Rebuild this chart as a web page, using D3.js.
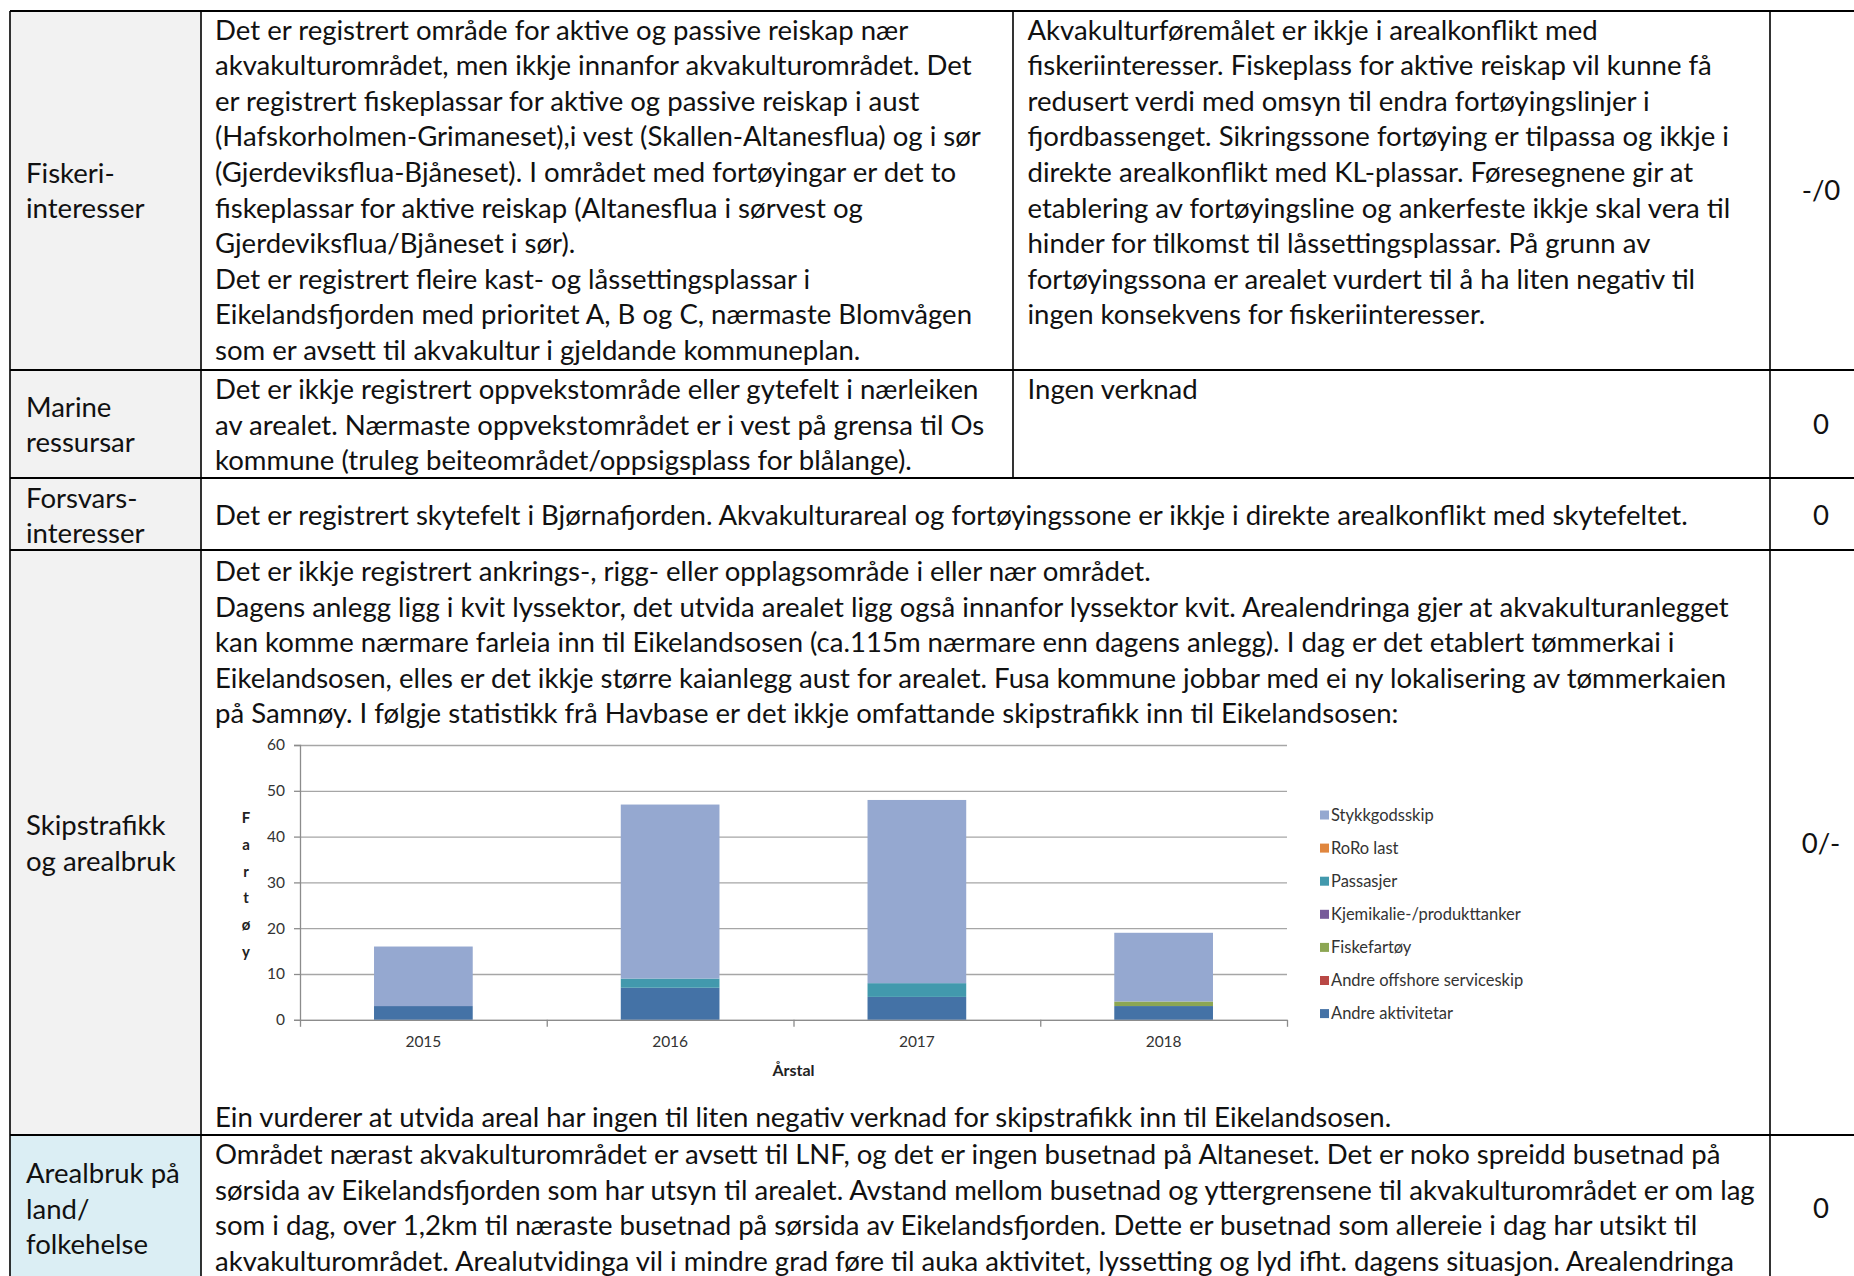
<!DOCTYPE html>
<html>
<head>
<meta charset="utf-8">
<script src="https://cdn.jsdelivr.net/npm/d3@7"></script>
<style>
  body { margin: 0; background: #fff; }
  text { font-family: Lato, "Noto Sans", sans-serif; }
</style>
</head>
<body>
<script>

// ---- chart data (Havbase, fartøy per år) ----
const years = ['2015', '2016', '2017', '2018'];

const seriesNames = [
  'Andre aktivitetar',
  'Andre offshore serviceskip',
  'Fiskefartøy',
  'Kjemikalie-/produkttanker',
  'Passasjer',
  'RoRo last',
  'Stykkgodsskip'
];

const andreAktivitetar = [3, 7, 5, 3];
const andreOffshore    = [0, 0, 0, 0];
const fiskefartoy      = [0, 0, 0, 1];
const kjemikalie       = [0, 0, 0, 0];
const passasjer        = [0, 2, 3, 0];
const roroLast         = [0, 0, 0, 0];
const stykkgodsskip    = [13, 38, 40, 15];

const yTicks = [0, 10, 20, 30, 40, 50, 60];

const seriesColors = ['#4472a6', '#b94845', '#8ca653', '#775a9a', '#4299ad', '#e0863e', '#95a8d0'];

// ---- table text ----
const headFiske   = ['Fiskeri-', 'interesser'];
const textFiske   = [
  'Det er registrert område for aktive og passive reiskap nær',
  'akvakulturområdet, men ikkje innanfor akvakulturområdet. Det',
  'er registrert fiskeplassar for aktive og passive reiskap i aust',
  '(Hafskorholmen-Grimaneset),i vest (Skallen-Altanesflua) og i sør',
  '(Gjerdeviksflua-Bjåneset). I området med fortøyingar er det to',
  'fiskeplassar for aktive reiskap (Altanesflua i sørvest og',
  'Gjerdeviksflua/Bjåneset i sør).',
  'Det er registrert fleire kast- og låssettingsplassar i',
  'Eikelandsfjorden med prioritet A, B og C, nærmaste Blomvågen',
  'som er avsett til akvakultur i gjeldande kommuneplan.'
];
const effectFiske = [
  'Akvakulturføremålet er ikkje i arealkonflikt med',
  'fiskeriinteresser. Fiskeplass for aktive reiskap vil kunne få',
  'redusert verdi med omsyn til endra fortøyingslinjer i',
  'fjordbassenget. Sikringssone fortøying er tilpassa og ikkje i',
  'direkte arealkonflikt med KL-plassar. Føresegnene gir at',
  'etablering av fortøyingsline og ankerfeste ikkje skal vera til',
  'hinder for tilkomst til låssettingsplassar. På grunn av',
  'fortøyingssona er arealet vurdert til å ha liten negativ til',
  'ingen konsekvens for fiskeriinteresser.'
];

const headMarine   = ['Marine', 'ressursar'];
const textMarine   = [
  'Det er ikkje registrert oppvekstområde eller gytefelt i nærleiken',
  'av arealet. Nærmaste oppvekstområdet er i vest på grensa til Os',
  'kommune (truleg beiteområdet/oppsigsplass for blålange).'
];
const effectMarine = ['Ingen verknad'];

const headForsvar = ['Forsvars-', 'interesser'];
const textForsvar = ['Det er registrert skytefelt i Bjørnafjorden. Akvakulturareal og fortøyingssone er ikkje i direkte arealkonflikt med skytefeltet.'];

const headSkip = ['Skipstrafikk', 'og arealbruk'];
const textSkip = [
  'Det er ikkje registrert ankrings-, rigg- eller opplagsområde i eller nær området.',
  'Dagens anlegg ligg i kvit lyssektor, det utvida arealet ligg også innanfor lyssektor kvit. Arealendringa gjer at akvakulturanlegget',
  'kan komme nærmare farleia inn til Eikelandsosen (ca.115m nærmare enn dagens anlegg). I dag er det etablert tømmerkai i',
  'Eikelandsosen, elles er det ikkje større kaianlegg aust for arealet. Fusa kommune jobbar med ei ny lokalisering av tømmerkaien',
  'på Samnøy. I følgje statistikk frå Havbase er det ikkje omfattande skipstrafikk inn til Eikelandsosen:'
];
const textSkipEnd = ['Ein vurderer at utvida areal har ingen til liten negativ verknad for skipstrafikk inn til Eikelandsosen.'];

const headAreal = ['Arealbruk på', 'land/', 'folkehelse'];
const textAreal = [
  'Området nærast akvakulturområdet er avsett til LNF, og det er ingen busetnad på Altaneset. Det er noko spreidd busetnad på',
  'sørsida av Eikelandsfjorden som har utsyn til arealet. Avstand mellom busetnad og yttergrensene til akvakulturområdet er om lag',
  'som i dag, over 1,2km til næraste busetnad på sørsida av Eikelandsfjorden. Dette er busetnad som allereie i dag har utsikt til',
  'akvakulturområdet. Arealutvidinga vil i mindre grad føre til auka aktivitet, lyssetting og lyd ifht. dagens situasjon. Arealendringa'
];

const scores = ['-/0', '0', '0', '0/-', '0'];


// ---- page ----
const W = 1854, H = 1276;

const svg = d3.select('body').append('svg')
    .attr('width', W)
    .attr('height', H);

// column / row edges of the table (right edge runs off the page)
const colX = [10, 201, 1013, 1770, 1872];
const rowY = [11, 370, 478, 550, 1135, 1320];
const lineH = 35.6;

// pick a body font size so the long Skipstrafikk line spans about the same width as the original
const probe = svg.append('text').style('font-size', '100px').text(textSkip[1]);
const fs = 100 * 1514 / probe.node().getComputedTextLength();
probe.remove();

// first-column shading
const headFill = ['#f2f2f2', '#f2f2f2', '#f2f2f2', '#f2f2f2', '#dbeef4'];
svg.selectAll('rect.head')
    .data(headFill)
    .join('rect')
    .attr('class', 'head')
    .attr('x', colX[0])
    .attr('y', (d, i) => rowY[i])
    .attr('width', colX[1] - colX[0])
    .attr('height', (d, i) => rowY[i + 1] - rowY[i])
    .attr('fill', d => d);

function block(lines, x, y0, anchor) {
  svg.append('g')
      .selectAll('text')
      .data(lines)
      .join('text')
      .attr('x', x)
      .attr('y', (d, i) => y0 + i * lineH)
      .attr('dy', '0.36em')
      .attr('text-anchor', anchor || 'start')
      .style('font-size', fs + 'px')
      .attr('fill', '#111')
      .text(d => d);
}

const c1 = 26, c2 = 215, c3 = 1027.5, c4 = (colX[3] + colX[4]) / 2;

block(headFiske, c1, 172.6);
block(textFiske, c2, 29.6);
block(effectFiske, c3, 29.6);

block(headMarine, c1, 406.7);
block(textMarine, c2, 389);
block(effectMarine, c3, 389);

block(headForsvar, c1, 497.8);
block(textForsvar, c2, 515.5);

block(headSkip, c1, 825);
block(textSkip, c2, 571);
block(textSkipEnd, c2, 1117);

block(headAreal, c1, 1173);
block(textAreal, c2, 1154);

const scoreY = [190, 424.5, 515.5, 843, 1208];
scores.forEach((s, i) => block([s], c4, scoreY[i], 'middle'));

// borders
const grid = svg.append('g').attr('stroke', '#000');
grid.selectAll('line.h')
    .data(rowY.slice(0, 5))
    .join('line')
    .attr('x1', colX[0]).attr('x2', colX[4])
    .attr('y1', d => d).attr('y2', d => d)
    .attr('stroke-width', 2.2);

[colX[0], colX[1], colX[3]].forEach(x => {
  grid.append('line')
      .attr('x1', x).attr('x2', x)
      .attr('y1', rowY[0]).attr('y2', H)
      .attr('stroke-width', 1.6);
});
grid.append('line')
    .attr('x1', colX[2]).attr('x2', colX[2])
    .attr('y1', rowY[0]).attr('y2', rowY[2])
    .attr('stroke-width', 1.6);


// ---- stacked column chart ----
const plot = { left: 300, right: 1287, top: 745, bottom: 1019.8 };
const chart = svg.append('g').attr('class', 'chart');

const xScale = d3.scaleBand()
    .domain(years)
    .range([plot.left, plot.right])
    .paddingInner(0.6)
    .paddingOuter(0.3);

const yScale = d3.scaleLinear()
    .domain([0, 60])
    .range([plot.bottom, plot.top]);

const seriesValues = [andreAktivitetar, andreOffshore, fiskefartoy, kjemikalie, passasjer, roroLast, stykkgodsskip];
const rows = years.map((yr, i) => {
  const r = { year: yr };
  seriesNames.forEach((s, k) => { r[s] = seriesValues[k][i]; });
  return r;
});
const stacked = d3.stack().keys(seriesNames)(rows);

// gridlines
chart.append('g')
    .attr('transform', `translate(${plot.left},0)`)
    .call(d3.axisLeft(yScale).tickValues(yTicks).tickSize(-(plot.right - plot.left)).tickFormat(''))
    .call(g => g.select('.domain').remove())
    .selectAll('line')
    .attr('stroke', '#a6a6a6')
    .attr('stroke-width', 1.3);

// bars
chart.append('g')
    .selectAll('g')
    .data(stacked)
    .join('g')
    .attr('fill', (d, i) => seriesColors[i])
    .selectAll('rect')
    .data(d => d)
    .join('rect')
    .attr('x', d => xScale(d.data.year))
    .attr('y', d => yScale(d[1]))
    .attr('width', xScale.bandwidth())
    .attr('height', d => yScale(d[0]) - yScale(d[1]));

// y axis
const yAxis = chart.append('g')
    .attr('transform', `translate(${plot.left},0)`)
    .call(d3.axisLeft(yScale).tickValues(yTicks).tickSize(6).tickPadding(9));
yAxis.select('.domain').attr('stroke', '#8c8c8c').attr('stroke-width', 1.3);
yAxis.selectAll('line').attr('stroke', '#8c8c8c').attr('stroke-width', 1.3);
yAxis.selectAll('text')
    .style('font-size', '15.5px')
    .attr('fill', '#333');

// x axis: boundary ticks, then centred year labels
const edges = d3.scaleLinear().domain([0, years.length]).range([plot.left, plot.right]);
const xEdge = chart.append('g')
    .attr('transform', `translate(0,${plot.bottom})`)
    .call(d3.axisBottom(edges).tickValues(d3.range(years.length + 1)).tickSize(7).tickFormat('').tickSizeOuter(0));
xEdge.select('.domain').attr('stroke', '#8c8c8c').attr('stroke-width', 1.3);
xEdge.selectAll('line').attr('stroke', '#8c8c8c').attr('stroke-width', 1.3);

chart.append('g')
    .attr('transform', `translate(0,${plot.bottom})`)
    .call(d3.axisBottom(xScale).tickSize(0).tickPadding(16))
    .call(g => g.select('.domain').remove())
    .selectAll('text')
    .style('font-size', '15.5px')
    .attr('fill', '#333');

// axis titles
chart.append('text')
    .attr('x', (plot.left + plot.right) / 2)
    .attr('y', 1070)
    .attr('dy', '0.35em')
    .attr('text-anchor', 'middle')
    .style('font-size', '16px')
    .style('font-weight', 'bold')
    .attr('fill', '#222')
    .text('Årstal');

chart.append('g')
    .selectAll('text')
    .data('Fartøy'.split(''))
    .join('text')
    .attr('x', 246)
    .attr('y', (d, i) => 818 + i * 26.7)
    .attr('dy', '0.35em')
    .attr('text-anchor', 'middle')
    .style('font-size', '15px')
    .style('font-weight', 'bold')
    .attr('fill', '#222')
    .text(d => d);

// legend, top series first
const legend = chart.append('g')
    .attr('transform', 'translate(1320, 815)');

const legendItems = seriesNames.map((s, i) => ({ name: s, color: seriesColors[i] })).reverse();

const legendRow = legend.selectAll('g')
    .data(legendItems)
    .join('g')
    .attr('transform', (d, i) => `translate(0, ${i * 33.1})`);

legendRow.append('rect')
    .attr('x', 0)
    .attr('y', -4.5)
    .attr('width', 9)
    .attr('height', 9)
    .attr('fill', d => d.color);

legendRow.append('text')
    .attr('x', 11)
    .attr('dy', '0.35em')
    .style('font-size', '16.5px')
    .attr('fill', '#333')
    .text(d => d.name);

</script>
</body>
</html>
